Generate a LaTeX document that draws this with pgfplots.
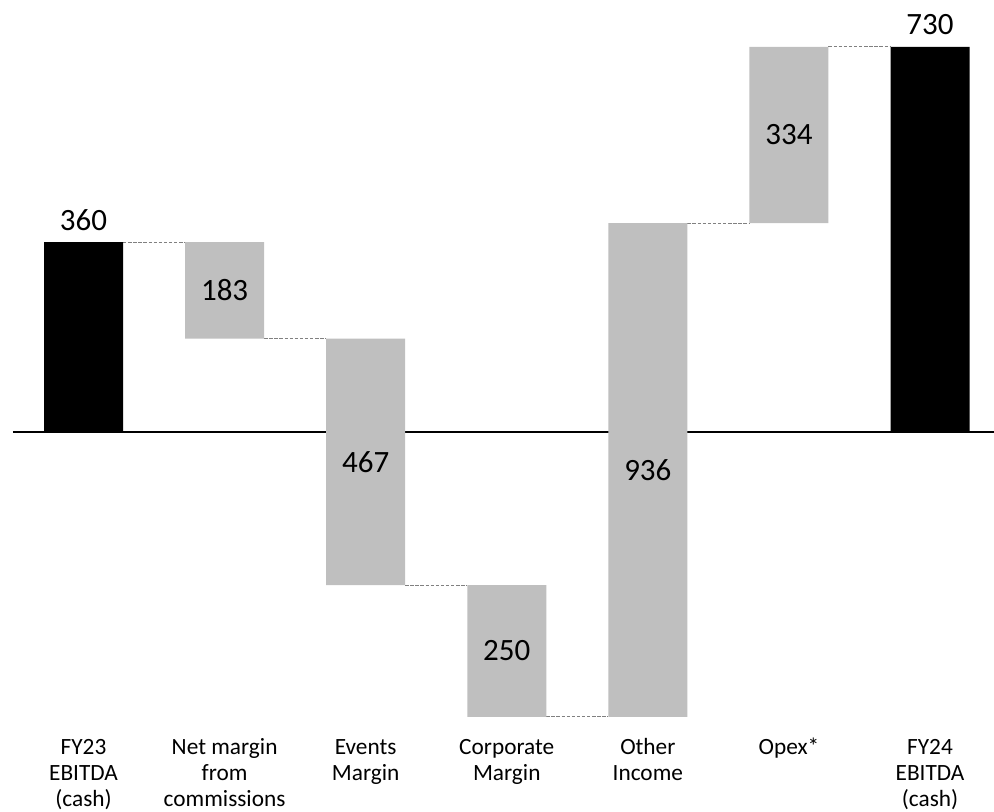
\documentclass[border=0pt]{standalone}
\usepackage{fontspec}
\setmainfont{Carlito}
\usepackage{pgfplots}
\pgfplotsset{compat=1.18}

\definecolor{barGray}{HTML}{BFBFBF}
\definecolor{linkGray}{HTML}{808080}

% common frame shared by the stacked layers of the waterfall
\pgfplotsset{
  wfframe/.style={
    scale only axis, width=497pt, height=406pt,
    xmin=-0.592, xmax=6.4536, ymin=-720.1, ymax=818.6,
    clip=false,
  },
  link/.style={linkGray, line width=0.5pt, dash pattern=on 1.7pt off 0.85pt},
}
\newcommand{\fl}{\rule{0pt}{10pt}}

\begin{document}
\begin{tikzpicture}
% zero line and dashed connectors between steps
\begin{axis}[wfframe, hide axis]
\addplot[black, line width=1pt] coordinates {(-0.5,0) (6.4536,0)};
\addplot[link] coordinates {(0.28,360) (0.72,360)};
\addplot[link] coordinates {(1.28,177) (1.72,177)};
\addplot[link] coordinates {(2.28,-290) (2.72,-290)};
\addplot[link] coordinates {(3.28,-540) (3.72,-540)};
\addplot[link] coordinates {(4.28,396) (4.72,396)};
\addplot[link] coordinates {(5.28,730) (5.72,730)};
\end{axis}

% bars: invisible base + grey step + black totals
\begin{axis}[wfframe, ybar stacked, stack negative=on previous, bar width=39.5pt,
  axis line style={draw=none}, major tick length=0pt, ytick=\empty,
  xtick={0,...,6},
  xticklabels={{\fl FY23\\EBITDA\\(cash)},{\fl Net margin\\from\\commissions},{\fl Events\\Margin},{\fl Corporate\\Margin},{\fl Other\\Income},{\fl Opex*},{\fl FY24\\EBITDA\\(cash)}},
  xticklabel style={align=center, anchor=north, inner sep=0pt, yshift=39pt,
    font=\fontsize{11.65}{13}\selectfont},
]
\addplot[draw=none, fill=none] coordinates {(0,0) (1,177) (2,-290) (3,-540) (4,-540) (5,396) (6,0)};
\addplot[draw=none, fill=barGray] coordinates {(0,0) (1,183) (2,467) (3,250) (4,936) (5,334) (6,0)};
\addplot[draw=none, fill=black] coordinates {(0,360) (1,0) (2,0) (3,0) (4,0) (5,0) (6,730)};
\end{axis}

% value labels
\begin{axis}[wfframe, hide axis]
\addplot[draw=none, mark=none, nodes near coords={\pgfplotspointmeta},
  point meta=explicit symbolic,
  nodes near coords style={anchor=center, inner sep=0pt, font=\fontsize{15.5}{18}\selectfont}]
  coordinates {(1,268.5) [183] (2,-56.5) [467] (3,-415) [250] (4,-72) [936] (5,563) [334]};
\addplot[draw=none, mark=none, nodes near coords={\pgfplotspointmeta},
  point meta=explicit symbolic,
  nodes near coords style={anchor=base, inner sep=0pt, yshift=6pt, font=\fontsize{15.5}{18}\selectfont}]
  coordinates {(0,360) [360] (6,730) [730]};
\end{axis}

\pgfresetboundingbox
\path (current axis.south west) rectangle (current axis.north east);
\end{tikzpicture}
\end{document}
